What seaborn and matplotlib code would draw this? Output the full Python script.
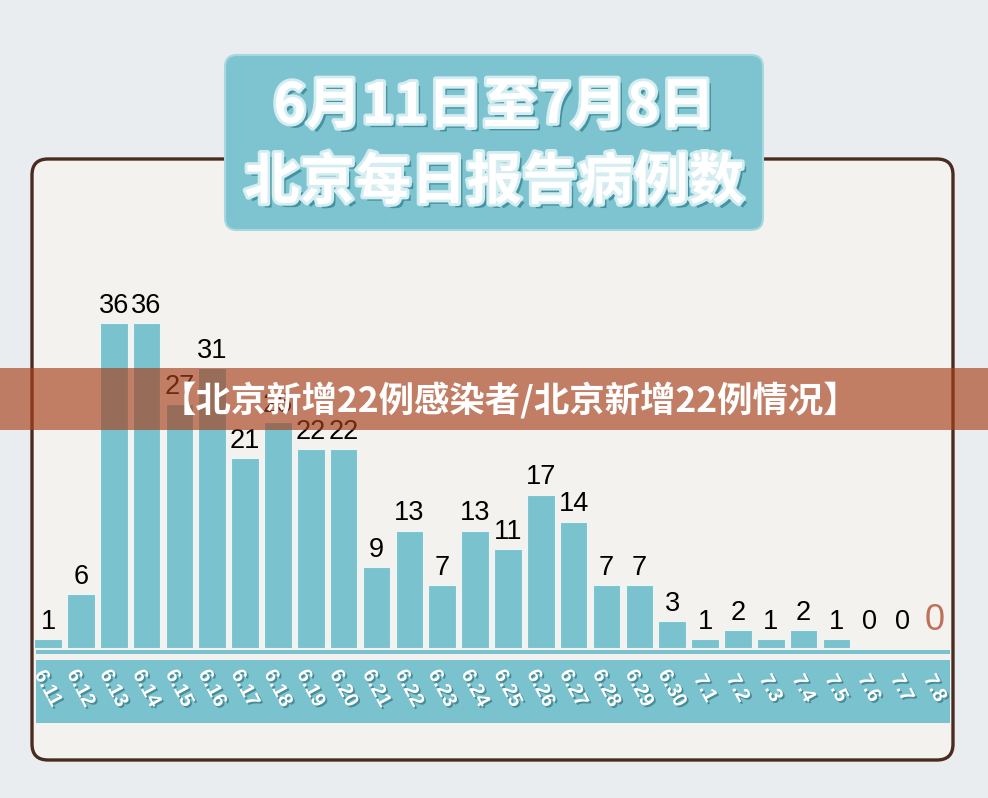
import numpy as np
import pandas as pd
import seaborn as sns
import matplotlib.pyplot as plt
import matplotlib.patheffects as pe
from matplotlib.patches import FancyBboxPatch, Rectangle

# daily reported cases, Beijing 6.11 - 7.8
dates = ['6.11', '6.12', '6.13', '6.14', '6.15', '6.16', '6.17', '6.18', '6.19', '6.20',
         '6.21', '6.22', '6.23', '6.24', '6.25', '6.26', '6.27', '6.28', '6.29', '6.30',
         '7.1', '7.2', '7.3', '7.4', '7.5', '7.6', '7.7', '7.8']
cases = [1, 6, 36, 36, 27, 31, 21, 25, 22, 22,
         9, 13, 7, 13, 11, 17, 14, 7, 7, 3,
         1, 2, 1, 2, 1, 0, 0, 0]
title_lines = ['6月11日至7月8日', '北京每日报告病例数']
banner_text = '【北京新增22例感染者/北京新增22例情况】'

teal = '#79C2CE'

sns.set_theme(style='white')
plt.rcParams['font.family'] = ['Noto Sans CJK SC', 'DejaVu Sans']

fig = plt.figure(figsize=(9.88, 7.98), dpi=100)
fig.patch.set_facecolor('#E9EDEF')

# background layer in pixel coords (y down)
bg = fig.add_axes([0, 0, 1, 1], zorder=0)
bg.set_xlim(0, 988)
bg.set_ylim(798, 0)
bg.axis('off')

bg.add_patch(FancyBboxPatch((32, 159), 921, 601, boxstyle='round,pad=0,rounding_size=16',
                            fc='#F4F2EF', ec='#4A2B20', lw=2.4))
bg.add_patch(Rectangle((36, 650), 914, 4, fc=teal, ec='none'))
bg.add_patch(Rectangle((36, 660), 914, 63, fc=teal, ec='none'))

# title box
bg.add_patch(FancyBboxPatch((225, 55), 538, 175, boxstyle='round,pad=0,rounding_size=12',
                            fc='#7EC4D0', ec='#A6D8E0', lw=1.5))
title_fx = [pe.withSimplePatchShadow(offset=(3, -3), shadow_rgbFace='#3F8E9B', alpha=0.9),
            pe.withStroke(linewidth=4, foreground='#D3EDF1')]
for line, y in zip(title_lines, [107, 183]):
    bg.text(494, y, line, ha='center', va='center', fontsize=40, fontweight='bold',
            color='white', path_effects=title_fx)

# bar chart
ax = fig.add_axes([31.6 / 988, 150 / 798, 919.8 / 988, 368 / 798], zorder=1)
ax.patch.set_alpha(0)
sns.barplot(x=dates, y=cases, color=teal, saturation=1, width=0.84,
            edgecolor='#EAF6F8', linewidth=0.8, ax=ax)
ax.set_xlim(-0.5, len(dates) - 0.5)
ax.set_ylim(0, 40.76)
ax.set_xlabel('')
ax.set_ylabel('')
ax.set_yticks([])
sns.despine(ax=ax, left=True, bottom=True)

ax.tick_params(axis='x', length=0, pad=29, colors='white')
for lbl in ax.get_xticklabels():
    lbl.set_rotation(-62)
    lbl.set_ha('center')
    lbl.set_va('center')
    lbl.set_rotation_mode('anchor')
    lbl.set_fontsize(14.5)
    lbl.set_fontweight('bold')
    lbl.set_family(['Liberation Sans', 'DejaVu Sans'])
    lbl.set_path_effects([pe.withSimplePatchShadow(offset=(1.3, -1.3), shadow_rgbFace='#3E7F8A', alpha=0.8)])

# value labels
for i, (p, v) in enumerate(zip(ax.patches, cases)):
    top = max(p.get_height(), 1)
    last = i == len(cases) - 1
    ax.annotate(str(v), (p.get_x() + p.get_width() / 2, top), xytext=(0, 3 if not last else 1),
                textcoords='offset points', ha='center', va='bottom',
                fontsize=26 if last else 19.5, color='#C0705A' if last else 'black',
                family=['Liberation Sans', 'DejaVu Sans'])

# overlay banner
ov = fig.add_axes([0, 0, 1, 1], zorder=2)
ov.set_xlim(0, 988)
ov.set_ylim(798, 0)
ov.axis('off')
ov.patch.set_alpha(0)
ov.add_patch(Rectangle((0, 368), 988, 62, fc='#A8401C', ec='none', alpha=0.65))
ov.text(510, 400, banner_text, ha='center', va='center', fontsize=25.5,
        fontweight='heavy', color='white')

fig.savefig('out.png', dpi=100, facecolor=fig.get_facecolor())
